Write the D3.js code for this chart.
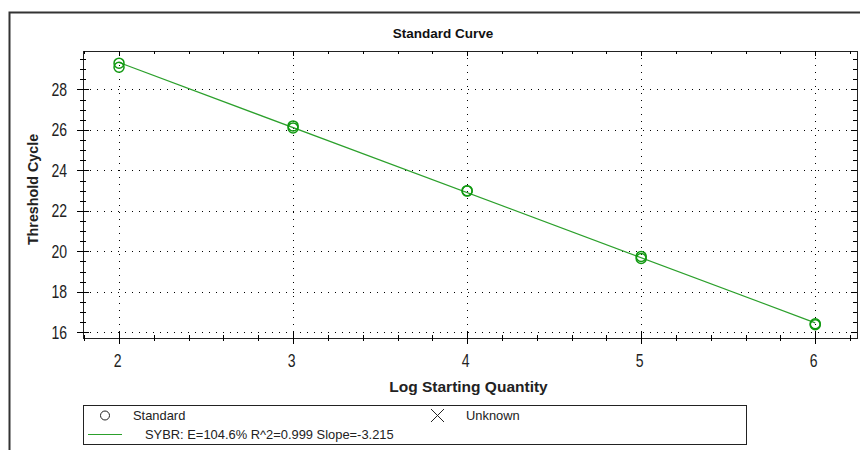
<!DOCTYPE html>
<html><head><meta charset="utf-8">
<script src="https://cdn.jsdelivr.net/npm/d3@7"></script>
<style>body{margin:0;background:#fff}svg{display:block}</style>
</head><body>
<svg id="c" width="860" height="450"></svg>
<script>
const stdX = [2, 2, 3, 3, 4, 4, 5, 5, 6, 6];
const stdY = [29.3, 29.1, 26.2, 26.1, 23.0, 22.98, 19.75, 19.65, 16.42, 16.38];
const fitX = [2, 6];
const fitY = [29.33, 16.47];
const xTicks = [2, 3, 4, 5, 6];
const yTicks = [16, 18, 20, 22, 24, 26, 28];
const title = "Standard Curve";
const xTitle = "Log Starting Quantity";
const yTitle = "Threshold Cycle";
const legendStd = "Standard";
const legendUnk = "Unknown";
const legendFit = "SYBR: E=104.6% R^2=0.999 Slope=-3.215";

const FONT = "Liberation Sans, Arial, sans-serif";
const svg = d3.select("#c");
const L = 83, R = 857, T = 51, B = 338;
const x = d3.scaleLinear().domain([1.793, 6.24]).range([L, R]);
const y = d3.scaleLinear().domain([15.72, 29.9]).range([B, T]);

// outer frame
svg.append("path").attr("d", "M9.5,450 V12.5 H860").attr("fill", "none").attr("stroke", "#333").attr("stroke-width", 2);

// title
svg.append("text").attr("x", 443).attr("y", 37.5).attr("text-anchor", "middle")
  .attr("font-family", FONT).attr("font-size", 13.5).attr("font-weight", "bold").attr("fill", "#111").text(title);

// grid
const g = svg.append("g");
g.selectAll(".gx").data(xTicks).join("line")
  .attr("x1", d => Math.round(x(d)) + 0.5).attr("x2", d => Math.round(x(d)) + 0.5)
  .attr("y1", T).attr("y2", B).attr("stroke", "#000").attr("stroke-dasharray", "1,6");
g.selectAll(".gy").data(yTicks).join("line")
  .attr("y1", d => Math.round(y(d)) + 0.5).attr("y2", d => Math.round(y(d)) + 0.5)
  .attr("x1", L).attr("x2", R).attr("stroke", "#000").attr("stroke-dasharray", "1,6");

// axes
const minorX = d3.range(1.8, 6.25, 0.2).filter(v => v >= 1.793 && v <= 6.24);
const minorY = d3.range(16, 29.9, 0.5);
const isMajX = d => xTicks.some(t => Math.abs(t - d) < 1e-6);
const ax = svg.append("g").attr("stroke", "#000").attr("stroke-width", 1);
ax.append("rect").attr("x", L + 0.5).attr("y", T + 0.5).attr("width", R - L).attr("height", B - T).attr("fill", "none").attr("stroke", "#222");
ax.selectAll(".ly").data(minorY).join("line")
  .attr("x1", d => yTicks.includes(d) ? L - 6 : L - 3).attr("x2", d => yTicks.includes(d) ? L + 6 : L + 3)
  .attr("y1", d => Math.round(y(d)) + 0.5).attr("y2", d => Math.round(y(d)) + 0.5);
ax.selectAll(".ry").data(minorY).join("line")
  .attr("x1", d => yTicks.includes(d) ? R - 6 : R - 4).attr("x2", R)
  .attr("y1", d => Math.round(y(d)) + 0.5).attr("y2", d => Math.round(y(d)) + 0.5);
ax.selectAll(".bx").data(minorX).join("line")
  .attr("x1", d => Math.round(x(d)) + 0.5).attr("x2", d => Math.round(x(d)) + 0.5)
  .attr("y1", d => isMajX(d) ? B - 6 : B - 3)
  .attr("y2", d => isMajX(d) ? B + 6 : B + 3);
ax.selectAll(".tx").data(minorX).join("line")
  .attr("x1", d => Math.round(x(d)) + 0.5).attr("x2", d => Math.round(x(d)) + 0.5)
  .attr("y1", T).attr("y2", d => isMajX(d) ? T + 5 : T + 3);

// tick labels (narrow, tall look)
svg.append("g").selectAll("g").data(yTicks).join("g")
  .attr("transform", d => `translate(67,${y(d) + 6.5}) scale(0.78,1)`)
  .append("text").attr("text-anchor", "end")
  .attr("font-family", FONT).attr("font-size", 18).attr("fill", "#222").text(d => d);
svg.append("g").selectAll("g").data(xTicks).join("g")
  .attr("transform", d => `translate(${x(d) - 1.5},366.5) scale(0.78,1)`)
  .append("text").attr("text-anchor", "middle")
  .attr("font-family", FONT).attr("font-size", 18).attr("fill", "#222").text(d => d);

// axis titles
svg.append("text").attr("x", 468.5).attr("y", 391.5).attr("text-anchor", "middle")
  .attr("font-family", FONT).attr("font-size", 15.5).attr("font-weight", "bold").attr("fill", "#222").text(xTitle);
svg.append("text").attr("transform", "translate(38,189.5) rotate(-90)").attr("text-anchor", "middle")
  .attr("font-family", FONT).attr("font-size", 14.3).attr("font-weight", "bold").attr("fill", "#222").text(yTitle);

// fit line
svg.append("path").datum(d3.zip(fitX, fitY))
  .attr("d", d3.line().x(d => x(d[0])).y(d => y(d[1])))
  .attr("fill", "none").attr("stroke", "#2ca02c").attr("stroke-width", 1.2);

// points
svg.append("g").selectAll("circle").data(d3.zip(stdX, stdY)).join("circle")
  .attr("cx", d => x(d[0])).attr("cy", d => y(d[1])).attr("r", 5)
  .attr("fill", "none").attr("stroke", "#119911").attr("stroke-width", 1.5);

// legend
const lg = svg.append("g");
lg.append("rect").attr("x", 83.5).attr("y", 405.5).attr("width", 663).attr("height", 39).attr("fill", "none").attr("stroke", "#222");
lg.append("circle").attr("cx", 105).attr("cy", 415.5).attr("r", 4.5).attr("fill", "none").attr("stroke", "#222");
lg.append("text").attr("x", 133).attr("y", 420).attr("font-family", FONT).attr("font-size", 12.9).attr("fill", "#222").text(legendStd);
lg.append("path").attr("d", "M431,409 L444,422 M444,409 L431,422").attr("stroke", "#222").attr("fill", "none");
lg.append("text").attr("x", 466).attr("y", 420).attr("font-family", FONT).attr("font-size", 12.9).attr("fill", "#222").text(legendUnk);
lg.append("line").attr("x1", 88).attr("x2", 122).attr("y1", 434.5).attr("y2", 434.5).attr("stroke", "#2ca02c").attr("stroke-width", 1.2);
lg.append("text").attr("x", 145).attr("y", 439).attr("font-family", FONT).attr("font-size", 12.9).attr("fill", "#222").text(legendFit);
</script>
</body></html>
